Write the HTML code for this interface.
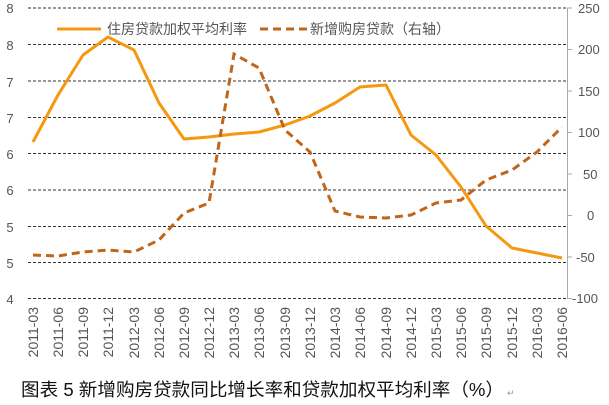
<!DOCTYPE html>
<html><head><meta charset="utf-8"><style>
html,body{margin:0;padding:0;background:#fff;}
svg{display:block;font-family:"Liberation Sans","Noto Sans CJK SC",sans-serif;}
</style></head><body>
<svg width="609" height="405" viewBox="0 0 609 405">
<g stroke="#333" stroke-dasharray="3,2" stroke-width="1">
<line x1="28" x2="566" y1="8" y2="8"/><line x1="28" x2="566" y1="44.5" y2="44.5"/>
<line x1="28" x2="566" y1="81" y2="81"/><line x1="28" x2="566" y1="117.5" y2="117.5"/>
<line x1="28" x2="566" y1="153.5" y2="153.5"/><line x1="28" x2="566" y1="190" y2="190"/>
<line x1="28" x2="566" y1="226.5" y2="226.5"/><line x1="28" x2="566" y1="262.5" y2="262.5"/>
<line x1="28" x2="566" y1="298.5" y2="298.5"/>
</g>
<line x1="567.5" x2="567.5" y1="8" y2="299" stroke="#aaa"/>
<g stroke="#aaa"><line x1="567" x2="572" y1="8" y2="8"/><line x1="567" x2="572" y1="49.5" y2="49.5"/><line x1="567" x2="572" y1="91" y2="91"/><line x1="567" x2="572" y1="132.5" y2="132.5"/><line x1="567" x2="572" y1="174" y2="174"/><line x1="567" x2="572" y1="215.5" y2="215.5"/><line x1="567" x2="572" y1="257" y2="257"/><line x1="567" x2="572" y1="298.5" y2="298.5"/></g>
<g font-size="13" fill="#555" text-anchor="middle">
<text x="10" y="13">8</text><text x="10" y="50">8</text><text x="10" y="87">7</text><text x="10" y="123">7</text><text x="10" y="159">6</text><text x="10" y="195">6</text><text x="10" y="232">5</text><text x="10" y="268">5</text><text x="10" y="304">4</text>
</g>
<g font-size="13" fill="#555" text-anchor="start">
<text x="578" y="13">250</text><text x="578" y="54">200</text><text x="578" y="96">150</text><text x="578" y="137">100</text><text x="583" y="179">50</text><text x="587" y="220">0</text><text x="576" y="262">-50</text><text x="572" y="303">-100</text>
</g>
<g font-size="14" fill="#555" text-anchor="end">
<text transform="translate(38,307) rotate(-90)">2011-03</text>
<text transform="translate(63,307) rotate(-90)">2011-06</text>
<text transform="translate(88,307) rotate(-90)">2011-09</text>
<text transform="translate(113,307) rotate(-90)">2011-12</text>
<text transform="translate(139,307) rotate(-90)">2012-03</text>
<text transform="translate(164,307) rotate(-90)">2012-06</text>
<text transform="translate(189,307) rotate(-90)">2012-09</text>
<text transform="translate(214,307) rotate(-90)">2012-12</text>
<text transform="translate(239,307) rotate(-90)">2013-03</text>
<text transform="translate(264,307) rotate(-90)">2013-06</text>
<text transform="translate(290,307) rotate(-90)">2013-09</text>
<text transform="translate(315,307) rotate(-90)">2013-12</text>
<text transform="translate(340,307) rotate(-90)">2014-03</text>
<text transform="translate(365,307) rotate(-90)">2014-06</text>
<text transform="translate(391,307) rotate(-90)">2014-09</text>
<text transform="translate(416,307) rotate(-90)">2014-12</text>
<text transform="translate(441,307) rotate(-90)">2015-03</text>
<text transform="translate(466,307) rotate(-90)">2015-06</text>
<text transform="translate(491,307) rotate(-90)">2015-09</text>
<text transform="translate(517,307) rotate(-90)">2015-12</text>
<text transform="translate(542,307) rotate(-90)">2016-03</text>
<text transform="translate(567,307) rotate(-90)">2016-06</text>
</g>
<polyline fill="none" stroke="#f6980f" stroke-width="3" stroke-linejoin="round" points="33,142 58,95 83,55 108,37 134,50 159,103 184,139 209,137 234,134 259,132 285,125 310,116 335,103 360,87 386,85 411,135 436,155 461,187 486,226 512,248 537,253 562,258"/>
<polyline fill="none" stroke="#c0651a" stroke-width="3" stroke-dasharray="8,5" points="33,255 58,256 83,252 108,250 134,252 159,240 184,213 209,203 234,54 259,68 285,130 310,152 335,211 360,217 386,218 411,215 436,203 461,200 486,180 512,170 537,152 562,127"/>
<line x1="57" x2="101" y1="29" y2="29" stroke="#f6980f" stroke-width="3"/>
<text x="107" y="34" font-size="14" fill="#555">住房贷款加权平均利率</text>
<line x1="260" x2="307" y1="29" y2="29" stroke="#c0651a" stroke-width="3" stroke-dasharray="8,5"/>
<text x="310" y="34" font-size="14" fill="#555">新增购房贷款（右轴）</text>
<text x="21" y="396" font-size="18" fill="#111" textLength="483" lengthAdjust="spacingAndGlyphs">图表 5 新增购房贷款同比增长率和贷款加权平均利率（%）</text>
<text x="507" y="396" font-size="9" fill="#999">↵</text>
</svg>
</body></html>
